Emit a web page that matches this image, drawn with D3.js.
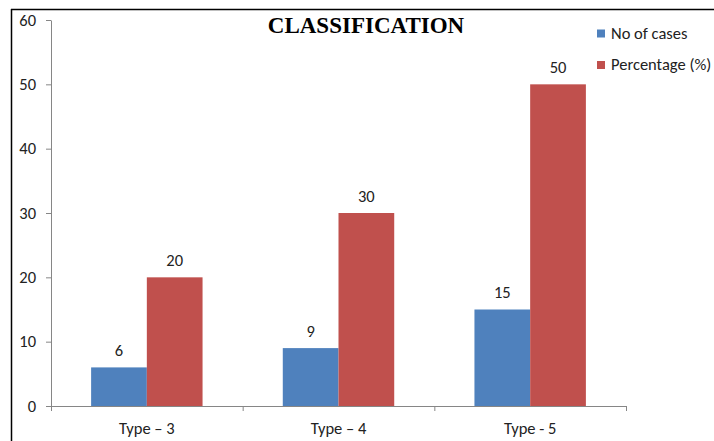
<!DOCTYPE html>
<html>
<head>
<meta charset="utf-8">
<script src="https://cdn.jsdelivr.net/npm/d3@7"></script>
<style>
  html, body { margin: 0; padding: 0; background: #fff; }
  svg { display: block; }
</style>
</head>
<body>
<svg id="chart" width="714" height="441"></svg>
<script>
// Classification data
const categories = ["Type \u2013 3", "Type \u2013 4", "Type - 5"];
const seriesNames = ["No of cases", "Percentage (%)"];
const cases = [6, 9, 15];
const percentage = [20, 30, 50];
const yTicks = [0, 10, 20, 30, 40, 50, 60];
const colors = ["#4F81BD", "#C0504D"];

const svg = d3.select("#chart");
const font = "Calibri, Carlito, 'Liberation Sans', Arial, sans-serif";
const fs = 16.5;

// outer frame (top and left edges visible)
svg.append("line").attr("x1", 11).attr("x2", 714).attr("y1", 9.5).attr("y2", 9.5)
  .attr("stroke", "#000").attr("stroke-width", 1.5);
svg.append("line").attr("x1", 11.5).attr("x2", 11.5).attr("y1", 9).attr("y2", 441)
  .attr("stroke", "#000").attr("stroke-width", 1.5);

const plot = { left: 51, right: 626, top: 20, bottom: 406 };

const x = d3.scaleBand().domain(categories).range([plot.left, plot.right]).paddingInner(0).paddingOuter(0);
const x1 = d3.scaleBand().domain([0, 1]).range([0, x.bandwidth()]).paddingInner(0).paddingOuter(0.72);
const y = d3.scaleLinear().domain([0, 60]).range([plot.bottom, plot.top]);

const table = categories.map((c, i) => ({ cat: c, values: [cases[i], percentage[i]] }));

// bars
const groups = svg.append("g").selectAll("g").data(table).join("g")
  .attr("transform", d => `translate(${x(d.cat)},0)`);
groups.selectAll("rect").data(d => d.values.map((v, k) => ({ v, k }))).join("rect")
  .attr("x", d => x1(d.k))
  .attr("width", x1.bandwidth())
  .attr("y", d => y(d.v))
  .attr("height", d => y(0) - y(d.v))
  .attr("fill", d => colors[d.k]);

// value labels
groups.selectAll("text").data(d => d.values.map((v, k) => ({ v, k }))).join("text")
  .attr("x", d => x1(d.k) + x1.bandwidth() / 2)
  .attr("y", d => y(d.v) - 11.5)
  .attr("text-anchor", "middle")
  .attr("font-family", font).attr("font-size", fs).attr("fill", "#222")
  .text(d => d.v);

// y axis
const yAxis = svg.append("g").attr("transform", `translate(${plot.left},0)`)
  .call(d3.axisLeft(y).tickValues(yTicks).tickSize(5).tickSizeOuter(0).tickPadding(10));
yAxis.select(".domain").attr("stroke", "#868686");
yAxis.selectAll(".tick line").attr("stroke", "#868686");
yAxis.selectAll(".tick text").attr("font-family", font).attr("font-size", fs).attr("fill", "#222");

// x axis with ticks at category boundaries
const xAxis = svg.append("g").attr("transform", `translate(0,${plot.bottom})`);
xAxis.append("line").attr("x1", plot.left).attr("x2", plot.right)
  .attr("y1", 0.5).attr("y2", 0.5).attr("stroke", "#868686");
const bounds = categories.map(c => x(c)).concat([plot.right]);
xAxis.selectAll("line.b").data(bounds).join("line").attr("class", "b")
  .attr("x1", d => d + 0.5).attr("x2", d => d + 0.5).attr("y1", 0).attr("y2", 5)
  .attr("stroke", "#868686");
xAxis.selectAll("text").data(categories).join("text")
  .attr("x", d => x(d) + x.bandwidth() / 2)
  .attr("y", 28)
  .attr("text-anchor", "middle")
  .attr("font-family", font).attr("font-size", fs).attr("fill", "#222")
  .text(d => d);

// title
svg.append("text").attr("x", 366).attr("y", 33).attr("text-anchor", "middle")
  .attr("font-family", "'Times New Roman', 'Liberation Serif', serif")
  .attr("font-weight", "bold").attr("font-size", 23).attr("fill", "#000")
  .text("CLASSIFICATION");

// legend
const legend = svg.append("g").attr("transform", "translate(597,29.5)");
const li = legend.selectAll("g").data(seriesNames).join("g")
  .attr("transform", (d, i) => `translate(0,${i * 31.5})`);
li.append("rect").attr("width", 8).attr("height", 8).attr("fill", (d, i) => colors[i]);
li.append("text").attr("x", 14).attr("y", 9)
  .attr("font-family", font).attr("font-size", fs).attr("fill", "#222")
  .text(d => d);
</script>
</body>
</html>
